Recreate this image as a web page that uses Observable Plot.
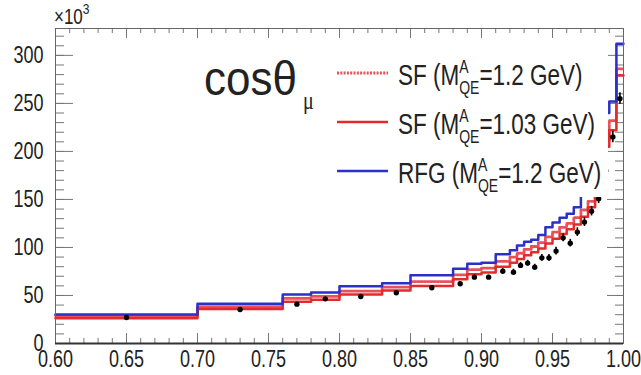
<!DOCTYPE html>
<html><head><meta charset="utf-8">
<script src="https://cdn.jsdelivr.net/npm/d3@7"></script>
<script src="https://cdn.jsdelivr.net/npm/@observablehq/plot@0.6"></script>
<style>body{margin:0;background:#fff} #chart{width:641px;height:375px}</style>
</head><body><div id="chart"></div>
<script>
// bin edges of cos(theta_mu)
const binEdges = [0.60,0.70,0.76,0.78,0.80,0.83,0.85,0.88,0.89,0.90,0.91,0.92,0.925,0.93,0.935,0.94,0.945,0.95,0.955,0.96,0.965,0.97,0.975,0.98,0.985,0.99,0.995,1.00];
// series (x10^3 events per bin)
const rfg12  = [30.2,41.3,51,53,59.7,62.8,71,77.8,83,84,93,97,102,106,108,113,121,126,131,135,142,160,175,198,240,252,312];
const sf103  = [26.4,35.8,43.5,45.5,51,55.2,60,67,72,74,80,84,88,92,95,99,104,109,114,119,124,132,142,165,205,222,279];
const sf12   = [28.8,38.5,47,49,54.5,58.6,64.5,71.5,77,78.5,85.5,90,94,98,101,105,111,116,121,125,131,139,148,172,212,232,286];
// data points
const dataX   = [0.65,0.73,0.77,0.79,0.815,0.84,0.865,0.885,0.895,0.905,0.915,0.9225,0.9275,0.9325,0.9375,0.9425,0.9475,0.9525,0.9575,0.9625,0.9675,0.9725,0.9775,0.9825,0.9875,0.9925,0.9975];
const dataY   = [27,35.4,41,46.5,49,52.8,58,62.2,69.1,69.1,75.3,74.3,81.3,83.7,79.5,89.2,89.2,96.2,110,104.5,116,126.4,137.8,150.7,180,215,255];
const dataErr = [1,1,1,1,1,1,1.5,2,2,2,2.5,3,3,3,3,3.5,3.5,4,4,4,4.5,4.5,5,5,5.5,6,6];
// ticks
const xMajorTicks = [0.60,0.65,0.70,0.75,0.80,0.85,0.90,0.95,1.00];
const xMinorTicks = d3.range(60, 101, 1).map(d => d / 100);
const yMajorTicks = [0,50,100,150,200,250,300];
const yMinorTicks = d3.range(0, 330, 10);

const W = 641, H = 375;
const M = {top: 28, right: 18, bottom: 32, left: 55};
const iw = W - M.left - M.right, ih = H - M.top - M.bottom;
const K = 1.28; // vertical stretch of glyphs

const steps = vals => binEdges.map((e, i) => ({x: e, y: vals[Math.min(i, vals.length - 1)]}));
const points = dataX.map((x, i) => ({x, y: dataY[i], e: dataErr[i]}));

const red = "#e52a2c", blue = "#2a30c8", tick = "#777";
const FF = "Liberation Sans, Arial, Helvetica, sans-serif";

const svg = Plot.plot({
  width: W, height: H,
  marginTop: M.top, marginRight: M.right, marginBottom: M.bottom, marginLeft: M.left,
  style: {fontFamily: FF, background: "#fff"},
  x: {domain: [0.6, 1.0]},
  y: {domain: [0, 328]},
  marks: [
    // ticks (inward, all four sides)
    Plot.ruleY(yMinorTicks, {y: d => d, insetRight: iw - 9, stroke: tick}),
    Plot.ruleY(yMajorTicks, {y: d => d, insetRight: iw - 18, stroke: tick}),
    Plot.ruleY(yMinorTicks, {y: d => d, insetLeft: iw - 8, stroke: tick}),
    Plot.ruleY(yMajorTicks, {y: d => d, insetLeft: iw - 16, stroke: tick}),
    Plot.ruleX(xMinorTicks, {x: d => d, insetTop: ih - 5, stroke: tick}),
    Plot.ruleX(xMajorTicks, {x: d => d, insetTop: ih - 10, stroke: tick}),
    Plot.ruleX(xMinorTicks, {x: d => d, insetBottom: ih - 5, stroke: tick}),
    Plot.ruleX(xMajorTicks, {x: d => d, insetBottom: ih - 10, stroke: tick}),
    // histograms
    Plot.line(steps(sf12), {x: "x", y: "y", curve: "step-after", stroke: "#e8505a", strokeWidth: 2.8, strokeDasharray: "2,1.3"}),
    Plot.line(steps(sf103), {x: "x", y: "y", curve: "step-after", stroke: red, strokeWidth: 2.5}),
    Plot.line(steps(rfg12), {x: "x", y: "y", curve: "step-after", stroke: blue, strokeWidth: 2.5}),
    // data
    Plot.ruleX(points, {x: "x", y1: d => d.y - d.e, y2: d => d.y + d.e, stroke: "#000", strokeWidth: 1.6}),
    Plot.dot(points, {x: "x", y: "y", r: 2.7, fill: "#000"}),
    // frame
    Plot.frame({stroke: "#666"}),
    Plot.ruleY([0], {stroke: "#333", strokeWidth: 2}),
    // tick labels
    Plot.axisX(xMajorTicks, {tickSize: 0, tickPadding: 7, tickFormat: d => d.toFixed(2), fontSize: 18, fill: "#222", label: null}),
    Plot.axisY(yMajorTicks, {tickSize: 0, tickPadding: 12, tickFormat: d => String(d), fontSize: 18, fill: "#222", label: null})
  ]
});

const s = d3.select(svg);
// exponent label
const ex = s.append("text").attr("x", 54).attr("y", 24).attr("font-size", 17).attr("fill", "#222").attr("font-family", FF).attr("text-anchor", "start");
ex.append("tspan").text("×10");
ex.append("tspan").attr("font-size", 12).attr("dy", -8).text("3");

// variable label
s.append("text").attr("x", 204).attr("y", 95).attr("font-size", 44).attr("fill", "#222").attr("font-family", FF).attr("text-anchor", "start").attr("data-k", 1.1).text("cosθ");
s.append("text").attr("x", 303).attr("y", 109).attr("font-size", 20).attr("fill", "#222").attr("font-family", "Liberation Serif, serif").attr("text-anchor", "start").text("μ");

// legend
const lg = s.append("g");
lg.append("rect").attr("x", 330).attr("y", 46).attr("width", 278).attr("height", 151).attr("fill", "#fff");
const entries = [
  {pre: "SF (M", val: "=1.2 GeV)", y: 73, stroke: "#e8505a", dash: "2,1.3", w: 2.8},
  {pre: "SF (M", val: "=1.03 GeV)", y: 122, stroke: red, dash: null, w: 2.5},
  {pre: "RFG (M", val: "=1.2 GeV)", y: 171, stroke: blue, dash: null, w: 2.5}
];
for (const e of entries) {
  lg.append("line").attr("x1", 337).attr("x2", 388).attr("y1", e.y).attr("y2", e.y)
    .attr("stroke", e.stroke).attr("stroke-width", e.w).attr("stroke-dasharray", e.dash);
  const t = lg.append("text").attr("x", 398).attr("y", e.y + 12).attr("font-size", 22.5).attr("fill", "#222").attr("font-family", FF).attr("text-anchor", "start");
  t.append("tspan").text(e.pre);
  t.append("tspan").attr("font-size", 14).attr("dy", -9).text("A");
  t.append("tspan").attr("font-size", 14).attr("dx", -9.3).attr("dy", 16).text("QE");
  t.append("tspan").attr("dy", -7).text(e.val);
}

// vertical stretch of glyphs around their anchor
const num = v => (v != null && /^-?[\d.]+$/.test(v)) ? +v : 0;
s.selectAll("text").each(function() {
  const el = d3.select(this);
  const k = +(el.attr("data-k") || K);
  const x = num(el.attr("x")), y = num(el.attr("y"));
  const tr = el.attr("transform") || "";
  el.attr("transform", `${tr} translate(${x},${y}) scale(1,${k}) translate(${-x},${-y})`);
});

document.getElementById("chart").appendChild(svg);
</script>
</body></html>
